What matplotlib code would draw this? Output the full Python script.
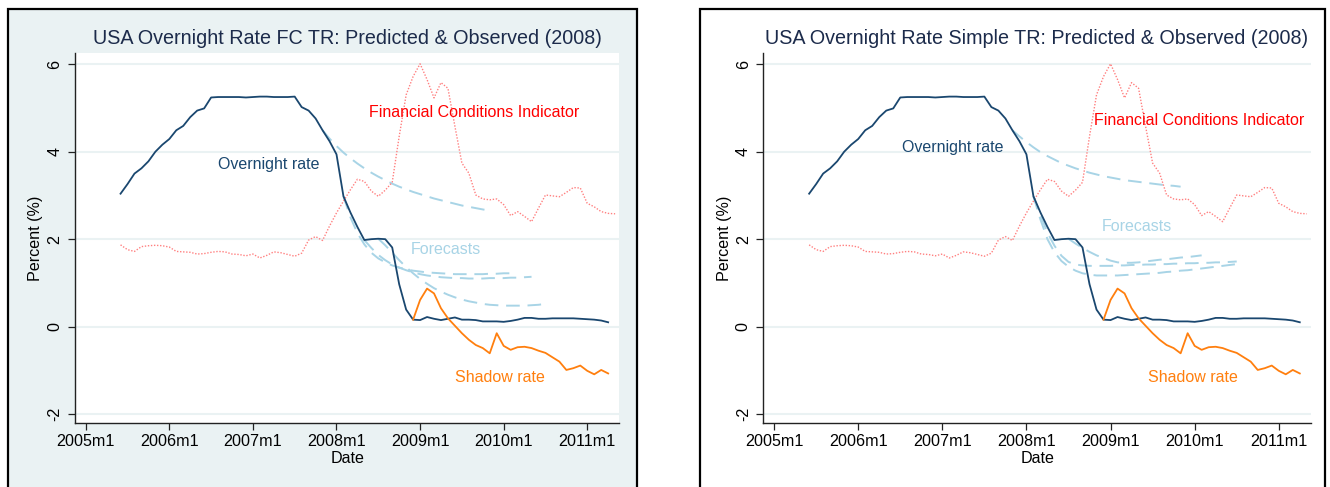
import matplotlib
matplotlib.use("Agg")
import matplotlib.pyplot as plt
from matplotlib.patches import Rectangle
import numpy as np

plt.rcParams['font.family'] = ['Liberation Sans', 'DejaVu Sans']

W, H = 1330, 487

# months counted from 2005m1 (= 0)
tick_pos = [0, 12, 24, 36, 48, 60, 72]
tick_labels = ['2005m1', '2006m1', '2007m1', '2008m1', '2009m1', '2010m1', '2011m1']

# overnight rate, 2005m6 .. 2011m4
overnight_start = 5
overnight = [3.04, 3.26, 3.50, 3.62, 3.78, 4.00, 4.16,
             4.29, 4.49, 4.59, 4.79, 4.94, 4.99, 5.24, 5.25, 5.25, 5.25, 5.25, 5.24,
             5.25, 5.26, 5.26, 5.25, 5.25, 5.25, 5.26, 5.02, 4.94, 4.76, 4.49, 4.24,
             3.94, 2.98, 2.61, 2.28, 1.98, 2.00, 2.01, 2.00, 1.81, 0.97, 0.39, 0.16,
             0.15, 0.22, 0.18, 0.15, 0.18, 0.21, 0.16, 0.16, 0.15, 0.12, 0.12, 0.12,
             0.11, 0.13, 0.16, 0.20, 0.20, 0.18, 0.18, 0.19, 0.19, 0.19, 0.19, 0.18,
             0.17, 0.16, 0.14, 0.10]

# financial conditions indicator, 2005m6 .. 2011m4
fci_start = 5
fci = [1.87, 1.76, 1.72, 1.83, 1.85, 1.86, 1.85, 1.82,
       1.72, 1.71, 1.70, 1.66, 1.67, 1.70, 1.72, 1.71, 1.66, 1.65, 1.62, 1.66,
       1.57, 1.63, 1.71, 1.69, 1.65, 1.61, 1.68, 1.98, 2.06, 1.97, 2.30, 2.60,
       2.87, 3.13, 3.37, 3.32, 3.10, 2.98, 3.12, 3.30, 4.35, 5.30, 5.72, 6.01,
       5.65, 5.23, 5.58, 5.45, 4.58, 3.74, 3.51, 3.01, 2.92, 2.90, 2.92, 2.79,
       2.54, 2.63, 2.52, 2.40, 2.71, 3.01, 2.99, 2.97, 3.07, 3.18, 3.17, 2.82,
       2.74, 2.63, 2.59, 2.58]

# shadow rate, 2008m12 .. 2011m4
shadow_start = 47
shadow = [0.16, 0.61, 0.87, 0.76, 0.42, 0.19, 0.02, -0.15, -0.30, -0.42, -0.49, -0.61,
          -0.15, -0.44, -0.53, -0.47, -0.46, -0.49, -0.55, -0.60, -0.70, -0.80, -0.99,
          -0.95, -0.89, -1.01, -1.09, -0.99, -1.07]

# forecast paths (start month, values)
fc_tr_forecasts = [
    (34, [4.49, 4.30, 4.13, 3.98, 3.85, 3.73, 3.62, 3.52, 3.43, 3.35, 3.27, 3.20,
          3.14, 3.08, 3.03, 2.98, 2.93, 2.89, 2.85, 2.81, 2.77, 2.74, 2.71, 2.68, 2.65]),
    (37, [2.98, 2.50, 2.14, 1.88, 1.69, 1.56, 1.47, 1.40, 1.35, 1.31, 1.28, 1.26,
          1.24, 1.23, 1.22, 1.21, 1.20, 1.20, 1.20, 1.20, 1.20, 1.21, 1.21, 1.22, 1.22]),
    (40, [1.98, 1.80, 1.64, 1.52, 1.42, 1.35, 1.29, 1.24, 1.20, 1.17, 1.15, 1.13,
          1.12, 1.11, 1.11, 1.10, 1.10, 1.10, 1.11, 1.11, 1.11, 1.12, 1.12, 1.13, 1.14]),
    (42, [2.01, 1.86, 1.69, 1.52, 1.36, 1.22, 1.09, 0.98, 0.88, 0.80, 0.73, 0.67,
          0.62, 0.58, 0.55, 0.52, 0.50, 0.49, 0.48, 0.48, 0.48, 0.48, 0.49, 0.50, 0.52]),
]
simple_tr_forecasts = [
    (34, [4.49, 4.35, 4.22, 4.10, 3.99, 3.90, 3.82, 3.74, 3.68, 3.62, 3.57, 3.52,
          3.48, 3.44, 3.41, 3.38, 3.35, 3.33, 3.31, 3.29, 3.27, 3.25, 3.23, 3.22, 3.20]),
    (37, [2.98, 2.55, 2.15, 1.85, 1.62, 1.48, 1.42, 1.40, 1.39, 1.39, 1.39, 1.39,
          1.40, 1.40, 1.41, 1.41, 1.42, 1.42, 1.43, 1.43, 1.44, 1.44, 1.45, 1.45,
          1.46, 1.46, 1.47, 1.47, 1.48, 1.49]),
    (37, [2.98, 2.45, 2.00, 1.70, 1.50, 1.37, 1.28, 1.22, 1.19, 1.17, 1.17, 1.17,
          1.17, 1.18, 1.19, 1.20, 1.21, 1.22, 1.23, 1.25, 1.26, 1.28, 1.29, 1.31,
          1.33, 1.35, 1.37, 1.39, 1.41, 1.43]),
    (42, [2.01, 1.90, 1.80, 1.71, 1.63, 1.57, 1.51, 1.47, 1.46, 1.46, 1.47, 1.49,
          1.51, 1.53, 1.54, 1.56, 1.58, 1.59, 1.61, 1.63]),
]

titles = ['USA Overnight Rate FC TR: Predicted & Observed (2008)',
          'USA Overnight Rate Simple TR: Predicted & Observed (2008)']

# label positions (month, value) per panel
labels_left = {'overnight': (26.3, 3.70), 'fci': (55.8, 4.90), 'fc': (51.7, 1.76), 'shadow': (59.5, -1.16)}
labels_right = {'overnight': (25.5, 4.10), 'fci': (60.7, 4.71), 'fc': (51.7, 2.29), 'shadow': (59.8, -1.17)}

NAVY = '#1a476f'
ORANGE = '#ff7f0e'
FCI_RED = '#ff8080'
LTBLUE = '#a8d4e6'
BG = '#eaf2f3'


def px_rect(x0, y0, x1, y1):
    return [x0 / W, 1 - y1 / H, (x1 - x0) / W, (y1 - y0) / H]


def draw_panel(ax, forecasts, lab, title, title_x):
    for start, vals in forecasts:
        ax.plot(np.arange(start, start + len(vals)), vals, color=LTBLUE,
                lw=1.4, dashes=(7, 4))
    ax.plot(np.arange(fci_start, fci_start + len(fci)), fci, color=FCI_RED,
            lw=1.0, ls=(0, (1, 1.2)))
    ax.plot(np.arange(overnight_start, overnight_start + len(overnight)), overnight,
            color=NAVY, lw=1.3)
    ax.plot(np.arange(shadow_start, shadow_start + len(shadow)), shadow,
            color=ORANGE, lw=1.3)

    ax.text(*lab['overnight'], 'Overnight rate', color=NAVY, fontsize=11.5, ha='center', va='center')
    ax.text(*lab['fci'], 'Financial Conditions Indicator', color='#ff0000', fontsize=11.5, ha='center', va='center')
    ax.text(*lab['fc'], 'Forecasts', color=LTBLUE, fontsize=11.5, ha='center', va='center')
    ax.text(*lab['shadow'], 'Shadow rate', color=ORANGE, fontsize=11.5, ha='center', va='center')

    ax.set_xlim(-1.54, 76.6)
    ax.set_ylim(-2.21, 6.25)
    ax.set_xticks(tick_pos)
    ax.set_xticklabels(tick_labels)
    ax.set_yticks([-2, 0, 2, 4, 6])
    ax.set_yticklabels(['-2', '0', '2', '4', '6'])
    for lbl in ax.get_yticklabels():
        lbl.set_rotation(90)
        lbl.set_va('center')
    ax.yaxis.grid(True, color=BG, lw=1.5)
    ax.set_axisbelow(True)
    for s in ['top', 'right']:
        ax.spines[s].set_visible(False)
    for s in ['left', 'bottom']:
        ax.spines[s].set_color('#222222')
        ax.spines[s].set_linewidth(1.0)
    ax.tick_params(axis='both', labelsize=11.6, length=5, width=0.9, color='#222222')
    ax.tick_params(axis='y', pad=4)
    ax.tick_params(axis='x', pad=3)
    ax.set_xlabel('Date', fontsize=11.6, labelpad=1)
    ax.set_ylabel('Percent (%)', fontsize=11.6, labelpad=3)
    fig.text(title_x / W, 1 - 39 / H, title, fontsize=14.2, color='#1c2b4b',
             ha='center', va='center')


fig = plt.figure(figsize=(W / 100, H / 100), dpi=100)

# panel frames (bottom runs past the image edge)
fig.add_artist(Rectangle((8 / W, -0.1), (637 - 8) / W, 1.1 - 9 / H, transform=fig.transFigure,
                         facecolor=BG, edgecolor='black', lw=1.6, zorder=0))
fig.add_artist(Rectangle((700 / W, -0.1), (1325 - 700) / W, 1.1 - 9 / H, transform=fig.transFigure,
                         facecolor='white', edgecolor='black', lw=1.6, zorder=0))

ax1 = fig.add_axes(px_rect(75, 53.3, 619.3, 423.3))
ax2 = fig.add_axes(px_rect(763.3, 53.3, 1311, 423.3))

draw_panel(ax1, fc_tr_forecasts, labels_left, titles[0], 347)
draw_panel(ax2, simple_tr_forecasts, labels_right, titles[1], 1037)

fig.savefig('out.png', dpi=100)
